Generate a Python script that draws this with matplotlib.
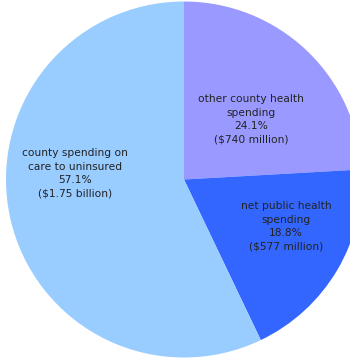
import matplotlib.pyplot as plt

# County health spending breakdown
categorias = ["other county health\nspending", "net public health\nspending",
              "county spending on\ncare to uninsured"]
porcentajes = [24.1, 18.8, 57.1]
montos = ["$740 million", "$577 million", "$1.75 billion"]
colores = ["#9999ff", "#3366ff", "#99ccff"]

# label centres in data units (pie radius = 1)
pos_etiquetas = [(0.376, 0.337), (0.573, -0.264), (-0.612, 0.034)]

fig = plt.figure(figsize=(3.5, 3.62), dpi=100)
ax = fig.add_axes([6 / 350, 4.5 / 362, 356 / 350, 356 / 362])

ax.pie(porcentajes, colors=colores, startangle=90, counterclock=False,
       radius=1, wedgeprops=dict(linewidth=0))

for cat, pct, monto, (x, y) in zip(categorias, porcentajes, montos, pos_etiquetas):
    ax.text(x, y, f"{cat}\n{pct:.1f}%\n({monto})", ha="center", va="center",
            fontsize=7.7, color="#222222", linespacing=1.45)

ax.set_xlim(-1, 1)
ax.set_ylim(-1, 1)
ax.axis("off")

fig.savefig("out.png", dpi=100)
